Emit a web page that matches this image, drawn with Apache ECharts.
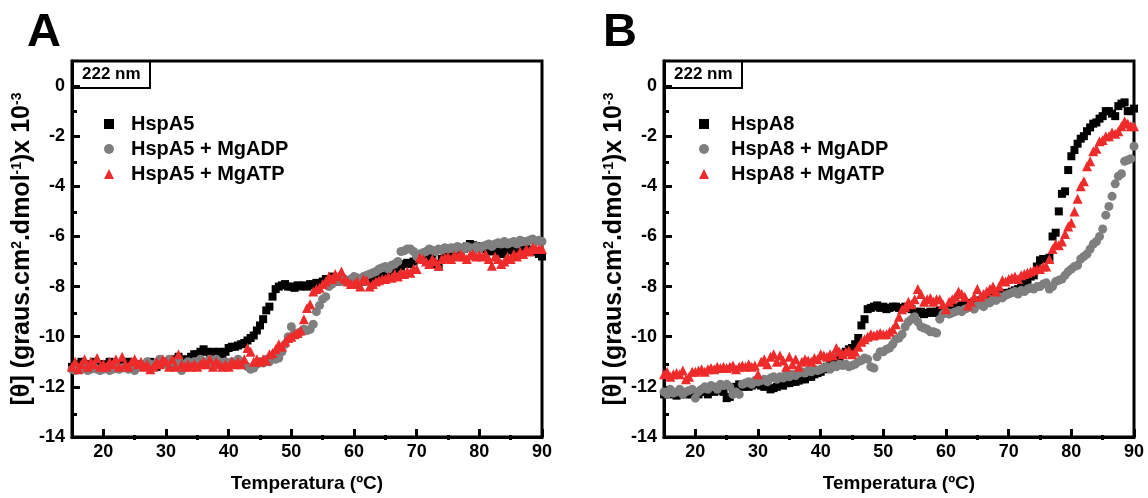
<!DOCTYPE html>
<html><head><meta charset="utf-8">
<script src="https://cdn.jsdelivr.net/npm/echarts@6/dist/echarts.min.js"></script>
<style>html,body{margin:0;padding:0;background:#fff}#c{width:1148px;height:498px}</style>
</head><body><div id="c"></div>
<script>
// Temperature (°C)
const temperatures = [
15,15.5,16,16.5,17,17.5,18,18.5,19,19.5,
20,20.5,21,21.5,22,22.5,23,23.5,24,24.5,
25,25.5,26,26.5,27,27.5,28,28.5,29,29.5,
30,30.5,31,31.5,32,32.5,33,33.5,34,34.5,
35,35.5,36,36.5,37,37.5,38,38.5,39,39.5,
40,40.5,41,41.5,42,42.5,43,43.5,44,44.5,
45,45.5,46,46.5,47,47.5,48,48.5,49,49.5,
50,50.5,51,51.5,52,52.5,53,53.5,54,54.5,
55,55.5,56,56.5,57,57.5,58,58.5,59,59.5,
60,60.5,61,61.5,62,62.5,63,63.5,64,64.5,
65,65.5,66,66.5,67,67.5,68,68.5,69,69.5,
70,70.5,71,71.5,72,72.5,73,73.5,74,74.5,
75,75.5,76,76.5,77,77.5,78,78.5,79,79.5,
80,80.5,81,81.5,82,82.5,83,83.5,84,84.5,
85,85.5,86,86.5,87,87.5,88,88.5,89,89.5,
90];

// Panel A
const hspA5 = [
-11.2,-11.1,-11.2,-11.0,-11.1,-11.2,-11.1,-11.0,-11.2,-11.1,
-11.1,-11.2,-11.0,-11.1,-11.2,-11.1,-11.2,-11.1,-11.0,-11.1,
-11.1,-11.2,-11.1,-11.2,-11.1,-11.0,-11.1,-11.2,-11.1,-11.0,
-11.0,-11.1,-10.9,-11.0,-10.8,-10.9,-11.0,-10.9,-10.8,-10.7,
-10.7,-10.6,-10.5,-10.6,-10.7,-10.6,-10.7,-10.6,-10.7,-10.6,
-10.45,-10.4,-10.4,-10.35,-10.3,-10.25,-10.15,-10.05,-9.95,-9.75,
-9.55,-9.3,-8.95,-8.8,-8.4,-8.1,-8.0,-7.95,-7.9,-8.0,
-8.0,-8.05,-7.95,-8.0,-7.95,-8.0,-7.9,-7.95,-7.85,-7.9,
-7.8,-7.7,-7.75,-7.6,-7.7,-7.8,-7.7,-7.75,-7.8,-7.85,
-7.8,-7.9,-7.7,-7.8,-7.7,-7.6,-7.7,-7.55,-7.5,-7.4,
-7.45,-7.4,-7.3,-7.3,-7.2,-7.2,-7.1,-7.05,-7.1,-7.0,
-6.9,-6.85,-6.9,-6.8,-6.9,-6.8,-7.1,-7.2,-6.9,-6.8,
-6.8,-6.75,-6.7,-6.6,-6.6,-6.5,-6.4,-6.3,-6.35,-6.4,
-6.4,-6.45,-6.5,-6.55,-6.6,-6.5,-6.6,-6.7,-6.6,-6.5,
-6.55,-6.6,-6.5,-6.55,-6.6,-6.5,-6.55,-6.6,-6.6,-6.7,
-6.8];
const hspA5ADP = [
-11.3,-11.35,-11.25,-11.3,-11.2,-11.35,-11.3,-11.2,-11.3,-11.35,
-11.3,-11.25,-11.35,-11.3,-11.2,-11.3,-11.25,-11.2,-11.3,-11.2,
-11.35,-11.2,-11.1,-11.2,-11.0,-11.1,-11.2,-11.05,-10.9,-11.0,
-11.1,-10.9,-11.0,-11.1,-10.9,-11.35,-11.1,-11.0,-11.1,-11.0,
-11.0,-10.9,-11.0,-11.1,-10.9,-11.0,-10.9,-11.0,-11.1,-11.0,
-11.1,-11.0,-11.1,-10.9,-11.0,-11.1,-11.2,-11.3,-11.25,-11.1,
-11.0,-11.05,-10.9,-11.0,-10.85,-10.9,-10.85,-10.6,-10.3,-10.0,
-9.6,-9.85,-9.9,-9.8,-9.7,-9.75,-9.7,-9.5,-9.0,-8.75,
-8.5,-8.4,-8.0,-7.9,-7.8,-7.75,-7.8,-7.7,-7.8,-7.7,
-7.6,-7.65,-7.7,-7.6,-7.55,-7.5,-7.45,-7.4,-7.3,-7.25,
-7.2,-7.3,-7.15,-7.1,-7.0,-6.6,-6.57,-6.5,-6.5,-6.6,
-6.8,-6.7,-6.65,-6.6,-6.5,-6.55,-6.6,-6.5,-6.55,-6.45,
-6.5,-6.45,-6.5,-6.4,-6.45,-6.5,-6.4,-6.45,-6.5,-6.4,
-6.5,-6.4,-6.35,-6.3,-6.4,-6.3,-6.25,-6.3,-6.2,-6.3,
-6.25,-6.2,-6.3,-6.15,-6.2,-6.2,-6.15,-6.1,-6.2,-6.15,
-6.2];
const hspA5ATP = [
-11.2,-11.0,-11.3,-11.1,-10.9,-11.2,-11.0,-11.1,-10.85,-11.2,
-11.1,-11.2,-11.0,-11.1,-10.9,-11.2,-10.8,-11.1,-11.2,-11.0,
-10.9,-11.1,-11.0,-11.2,-11.1,-11.3,-11.2,-11.0,-11.1,-10.9,
-11.0,-11.2,-10.9,-11.2,-10.7,-11.1,-11.2,-11.1,-11.2,-11.1,
-11.2,-11.1,-11.0,-11.1,-10.9,-11.2,-11.0,-11.1,-11.2,-11.1,
-11.2,-11.0,-11.1,-11.0,-11.1,-10.9,-10.45,-10.6,-11.0,-10.9,
-11.0,-10.9,-10.95,-10.7,-10.65,-10.5,-10.3,-10.4,-10.2,-10.05,
-10.0,-9.9,-9.85,-9.75,-9.3,-8.85,-8.7,-8.2,-8.1,-8.05,
-7.9,-7.8,-7.6,-7.7,-7.5,-7.6,-7.4,-7.7,-7.8,-7.9,
-7.9,-7.8,-8.0,-7.7,-7.75,-8.0,-7.9,-7.8,-7.75,-7.7,
-7.7,-7.6,-7.65,-7.5,-7.6,-7.45,-7.5,-7.4,-7.45,-7.3,
-7.3,-6.85,-6.9,-7.0,-7.1,-6.9,-7.0,-7.17,-6.9,-6.85,
-6.8,-6.9,-6.75,-6.8,-6.7,-6.8,-6.9,-6.75,-6.7,-6.8,
-6.75,-6.8,-6.7,-6.9,-7.17,-6.8,-6.9,-7.1,-7.0,-6.8,
-6.9,-6.7,-6.8,-6.6,-6.7,-6.5,-6.6,-6.43,-6.5,-6.5,
-6.5];

// Panel B
const hspA8 = [
-12.3,-12.2,-12.3,-12.25,-12.35,-12.3,-12.2,-12.3,-12.25,-12.3,
-12.2,-12.3,-12.15,-12.2,-12.3,-12.1,-12.2,-12.15,-12.1,-12.2,
-12.45,-12.4,-12.1,-12.0,-11.9,-12.0,-11.9,-12.0,-11.95,-11.85,
-11.9,-11.95,-12.0,-11.9,-12.1,-12.05,-12.0,-11.9,-11.95,-11.85,
-11.85,-11.8,-11.8,-11.75,-11.7,-11.7,-11.6,-11.6,-11.5,-11.45,
-11.4,-11.3,-11.2,-11.1,-11.0,-10.9,-10.8,-10.7,-10.6,-10.5,
-10.45,-10.3,-10.05,-9.55,-9.3,-8.9,-8.85,-8.8,-8.75,-8.85,
-8.8,-8.9,-8.85,-8.8,-8.8,-8.85,-8.9,-8.8,-8.85,-8.9,
-9.0,-9.05,-9.0,-9.1,-9.05,-9.0,-9.05,-9.0,-8.95,-9.0,
-8.9,-8.95,-8.85,-8.8,-8.85,-8.75,-8.7,-8.75,-8.65,-8.6,
-8.6,-8.55,-8.5,-8.45,-8.5,-8.4,-8.35,-8.4,-8.3,-8.25,
-8.25,-8.2,-8.15,-8.1,-8.0,-7.9,-7.8,-7.6,-7.55,-7.2,
-6.95,-6.9,-6.9,-6.85,-6.0,-5.85,-5.0,-4.3,-4.2,-3.35,
-2.8,-2.55,-2.3,-2.1,-2.0,-1.8,-1.65,-1.5,-1.45,-1.3,
-1.2,-1.0,-1.0,-1.1,-1.2,-0.8,-0.7,-0.65,-1.0,-1.0,
-0.9];
const hspA8ADP = [
-12.2,-12.3,-12.1,-12.25,-12.2,-12.1,-12.3,-12.2,-12.15,-12.1,
-12.45,-12.2,-12.1,-12.0,-12.1,-11.95,-12.0,-12.1,-11.9,-11.95,
-11.9,-12.0,-12.3,-12.2,-12.3,-11.9,-11.85,-11.8,-11.9,-11.75,
-11.8,-11.75,-11.7,-11.8,-11.65,-11.6,-11.7,-11.6,-11.65,-11.5,
-11.6,-11.5,-11.55,-11.45,-11.4,-11.45,-11.35,-11.4,-11.3,-11.35,
-11.3,-11.25,-11.2,-11.3,-11.15,-11.2,-11.1,-11.15,-11.1,-11.2,
-11.15,-11.1,-11.0,-10.95,-10.85,-10.9,-11.2,-11.25,-10.8,-10.6,
-10.6,-10.5,-10.45,-10.3,-10.1,-10.05,-9.9,-9.6,-9.4,-9.3,
-9.2,-9.4,-9.6,-9.65,-9.7,-9.8,-9.8,-9.85,-9.3,-9.1,
-9.0,-9.1,-9.05,-9.0,-8.95,-9.0,-8.9,-8.85,-8.8,-8.9,
-8.75,-8.7,-8.8,-8.6,-8.65,-8.5,-8.55,-8.4,-8.45,-8.35,
-8.3,-8.25,-8.2,-8.3,-8.15,-8.2,-8.1,-8.05,-8.1,-8.0,
-8.0,-7.9,-7.85,-8.1,-8.0,-7.8,-7.75,-7.7,-7.55,-7.4,
-7.3,-7.2,-7.15,-6.9,-6.8,-6.7,-6.5,-6.3,-6.2,-6.0,
-5.7,-5.15,-4.8,-4.4,-3.9,-3.6,-3.5,-3.0,-2.95,-2.9,
-2.4];
const hspA8ATP = [
-11.5,-11.4,-11.6,-11.5,-11.45,-11.5,-11.35,-11.7,-11.6,-11.4,
-11.4,-11.35,-11.3,-11.4,-11.3,-11.25,-11.3,-11.2,-11.25,-11.2,
-11.25,-11.2,-11.15,-11.3,-11.2,-11.15,-11.2,-11.1,-11.2,-11.15,
-11.5,-11.0,-10.9,-11.1,-10.8,-10.7,-11.0,-10.75,-10.95,-11.2,
-10.8,-11.1,-10.9,-11.2,-11.0,-10.9,-10.95,-11.0,-10.85,-10.9,
-10.7,-10.75,-10.8,-10.7,-10.75,-10.45,-10.6,-10.7,-10.6,-10.55,
-10.7,-10.6,-10.4,-10.2,-10.1,-10.0,-9.9,-9.95,-9.9,-9.85,
-9.9,-9.9,-9.8,-9.7,-9.5,-9.2,-8.9,-8.8,-8.6,-8.7,
-8.5,-8.1,-8.3,-8.6,-8.5,-8.45,-8.6,-8.5,-8.5,-8.7,
-8.9,-8.6,-8.5,-8.4,-8.2,-8.3,-8.4,-8.75,-8.6,-8.4,
-8.1,-8.4,-8.3,-8.2,-8.1,-8.0,-8.2,-8.0,-7.75,-7.8,
-7.7,-7.65,-7.6,-7.7,-7.55,-7.5,-7.45,-7.4,-7.35,-7.3,
-7.3,-7.2,-7.2,-6.9,-6.5,-6.3,-6.35,-6.2,-5.9,-5.6,
-5.45,-5.0,-4.5,-4.0,-3.8,-3.2,-3.0,-2.6,-2.5,-2.2,
-2.15,-2.0,-2.0,-1.85,-1.9,-1.8,-1.6,-1.4,-1.5,-1.6,
-1.6];

// Tick labels
const xMajorTicks = [20,30,40,50,60,70,80,90];
const xMinorTicks = [25,35,45,55,65,75,85];
const yMajorTicks = [-14,-12,-10,-8,-6,-4,-2,0];
const yMinorTicks = [-13,-11,-9,-7,-5,-3,-1];

const namesA = ['HspA5','HspA5 + MgADP','HspA5 + MgATP'];
const namesB = ['HspA8','HspA8 + MgADP','HspA8 + MgATP'];

const FONT = '"Liberation Sans", Arial, Helvetica, sans-serif';
const BLACK = '#000000', GRAY = '#7f7f7f', RED = '#ee2b2b';

function pts(vals){ return temperatures.map((t,i)=>[t, vals[i]]); }

function xMain(g){
  return {
    type:'value', gridIndex:g, min:15, max:90,
    name:'Temperatura (ºC)', nameLocation:'middle', nameGap:37,
    nameTextStyle:{fontFamily:FONT,fontSize:19,fontWeight:'bold',color:'#000'},
    axisLine:{show:true,onZero:false,lineStyle:{color:'#000',width:3}},
    axisTick:{show:true,inside:true,length:8,customValues:xMajorTicks,lineStyle:{color:'#000',width:3}},
    axisLabel:{customValues:xMajorTicks,margin:6,fontFamily:FONT,fontSize:18,fontWeight:'bold',color:'#000'},
    splitLine:{show:false}
  };
}
function xMinor(g){
  return {
    type:'value', gridIndex:g, min:15, max:90, position:'bottom',
    axisLine:{show:false,onZero:false},
    axisTick:{show:true,inside:true,length:5,customValues:xMinorTicks,lineStyle:{color:'#000',width:3}},
    axisLabel:{show:false}, splitLine:{show:false}
  };
}
function xHidden(g){
  return {type:'value', gridIndex:g, min:15, max:90, show:false, splitLine:{show:false}};
}
function yMain(g){
  return {
    type:'value', gridIndex:g, min:-14, max:1,
    name:'[θ] (graus.cm{s|2}.dmol{s|-1})x 10{s|-3}', nameLocation:'middle', nameGap:31,
    nameTextStyle:{fontFamily:FONT,fontSize:25,fontWeight:'bold',color:'#000',
      rich:{s:{fontFamily:FONT,fontSize:14,fontWeight:'bold',color:'#000',verticalAlign:'top',lineHeight:25}}},
    axisLine:{show:true,onZero:false,lineStyle:{color:'#000',width:3}},
    axisTick:{show:true,inside:true,length:8,customValues:yMajorTicks,lineStyle:{color:'#000',width:3}},
    axisLabel:{customValues:yMajorTicks,margin:7,fontFamily:FONT,fontSize:18,fontWeight:'bold',color:'#000'},
    splitLine:{show:false}
  };
}
function yMinor(g){
  return {
    type:'value', gridIndex:g, min:-14, max:1, position:'left',
    axisLine:{show:false,onZero:false},
    axisTick:{show:true,inside:true,length:5,customValues:yMinorTicks,lineStyle:{color:'#000',width:3}},
    axisLabel:{show:false}, splitLine:{show:false}
  };
}
function yHidden(g){
  return {type:'value', gridIndex:g, min:1, max:2, show:false, splitLine:{show:false}};
}
function seriesSet(names, arrs, xi, yi){
  const styles = [
    {symbol:'rect', symbolSize:8, color:BLACK},
    {symbol:'circle', symbolSize:9, color:GRAY},
    {symbol:'triangle', symbolSize:10, color:RED}
  ];
  return names.map((n,k)=>({
    type:'scatter', name:n, xAxisIndex:xi, yAxisIndex:yi,
    symbol:styles[k].symbol, symbolSize:styles[k].symbolSize,
    itemStyle:{color:styles[k].color, opacity:1},
    data:pts(arrs[k]), silent:true, z:2+k
  }));
}
function legend(names, left, pad){
  return {
    orient:'vertical', left:left, top:114, padding:0, itemWidth:10, itemHeight:10, itemGap:5,
    data:names, selectedMode:false,
    textStyle:{fontFamily:FONT,fontSize:20,fontWeight:'bold',color:'#000',padding:[0,0,0,pad]}
  };
}
function nmBox(left){
  return {text:'222 nm', left:left, top:61, borderColor:'#000', borderWidth:2, padding:[5,10,5,10],
    textStyle:{fontFamily:FONT,fontSize:17,fontWeight:'bold',color:'#000'}};
}

const gridA = {left:72, right:606, top:61, bottom:58};
const gridB = {left:664, right:14, top:61, bottom:58};

const chart = echarts.init(document.getElementById('c'), null, {renderer:'canvas'});
chart.setOption({
  animation:false,
  backgroundColor:'#ffffff',
  title:[
    {text:'A', left:27, top:10, padding:0, textStyle:{fontFamily:FONT,fontSize:47,fontWeight:'bold',color:'#000'}},
    {text:'B', left:603, top:10, padding:0, textStyle:{fontFamily:FONT,fontSize:47,fontWeight:'bold',color:'#000'}},
    nmBox(72), nmBox(664)
  ],
  legend:[legend(namesA,104,12), legend(namesB,699,17)],
  grid:[
    Object.assign({show:true, borderColor:'#000', borderWidth:3, backgroundColor:'transparent'}, gridA),
    Object.assign({show:true, borderColor:'#000', borderWidth:3, backgroundColor:'transparent'}, gridB),
    Object.assign({show:false}, gridA),
    Object.assign({show:false}, gridB),
    Object.assign({show:false}, gridA),
    Object.assign({show:false}, gridB)
  ],
  xAxis:[xMain(0), xMain(1), xMinor(2), xMinor(3), xHidden(4), xHidden(5)],
  yAxis:[yMain(0), yMain(1), yHidden(2), yHidden(3), yMinor(4), yMinor(5)],
  series:[
    ...seriesSet(namesA,[hspA5,hspA5ADP,hspA5ATP],0,0),
    ...seriesSet(namesB,[hspA8,hspA8ADP,hspA8ATP],1,1)
  ]
});
</script></body></html>
